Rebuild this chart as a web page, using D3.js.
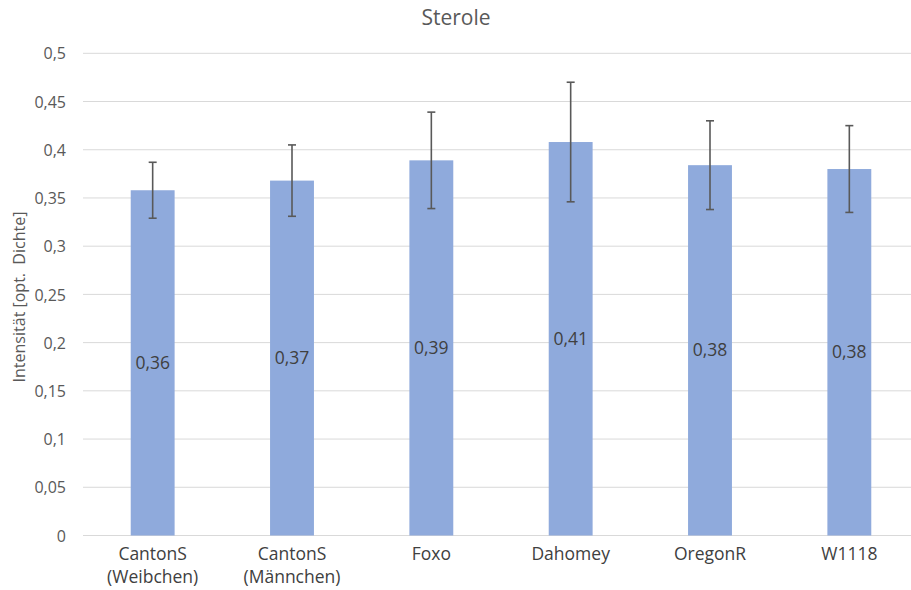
<!DOCTYPE html>
<html><head><meta charset="utf-8">
<script src="https://cdn.jsdelivr.net/npm/d3@7"></script>
<style>body{margin:0;background:#fff;} text{font-family:"Open Sans","Noto Sans",sans-serif;}</style>
</head><body><svg id="c" width="911" height="590"></svg>
<script>
const categories = [["CantonS","(Weibchen)"],["CantonS","(Männchen)"],["Foxo"],["Dahomey"],["OregonR"],["W1118"]];
const values = [0.358, 0.368, 0.389, 0.408, 0.384, 0.380];
const errHigh = [0.387, 0.405, 0.439, 0.470, 0.430, 0.425];
const errLow = [0.329, 0.331, 0.339, 0.346, 0.338, 0.335];
const valueLabels = ["0,36","0,37","0,39","0,41","0,38","0,38"];
const yTicks = [0,0.05,0.1,0.15,0.2,0.25,0.3,0.35,0.4,0.45,0.5];
const title = "Sterole";
const yTitle = "Intensität [opt.  Dichte]";

const svg = d3.select("#c");
const x = d3.scaleBand().domain(d3.range(categories.length)).range([83,919]).paddingInner(0.685).paddingOuter(0.3425);
const y = d3.scaleLinear().domain([0,0.5]).range([535.5,53.3]);
const fmt = d => String(d).replace(".", ",");

// gridlines
svg.append("g").selectAll("line").data(yTicks).join("line")
  .attr("x1",83).attr("x2",911).attr("y1",d=>y(d)).attr("y2",d=>y(d))
  .attr("stroke","#d9d9d9").attr("stroke-width",1);

// y axis labels
const ya = svg.append("g").attr("transform","translate(66,0)")
  .call(d3.axisLeft(y).tickValues(yTicks).tickFormat(fmt).tickSize(0).tickPadding(0));
ya.select(".domain").remove();
ya.selectAll("text").attr("fill","#595959").style("font-size","16px").attr("dy","0.35em");

// bars
svg.append("g").selectAll("rect").data(values).join("rect")
  .attr("x",(d,i)=>x(i)).attr("width",x.bandwidth())
  .attr("y",d=>y(d)).attr("height",d=>y(0)-y(d))
  .attr("fill","#8faadc");

// error bars
const eb = svg.append("g").attr("stroke","#595959").attr("stroke-width",1.6);
values.forEach((v,i)=>{
  const cx = x(i)+x.bandwidth()/2;
  eb.append("line").attr("x1",cx).attr("x2",cx).attr("y1",y(errHigh[i])).attr("y2",y(errLow[i]));
  eb.append("line").attr("x1",cx-4).attr("x2",cx+4).attr("y1",y(errHigh[i])).attr("y2",y(errHigh[i]));
  eb.append("line").attr("x1",cx-4).attr("x2",cx+4).attr("y1",y(errLow[i])).attr("y2",y(errLow[i]));
});

// value labels
svg.append("g").selectAll("text").data(values).join("text")
  .attr("x",(d,i)=>x(i)+x.bandwidth()/2).attr("y",d=>(y(d)+y(0))/2)
  .attr("dy","0.35em").attr("text-anchor","middle")
  .attr("fill","#404040").style("font-size","17.5px").text((d,i)=>valueLabels[i]);

// x axis labels
const xl = svg.append("g").selectAll("text").data(categories).join("text")
  .attr("x",(d,i)=>x(i)+x.bandwidth()/2).attr("y",560)
  .attr("text-anchor","middle").attr("fill","#404040").style("font-size","17.5px");
xl.each(function(d,i){
  const t = d3.select(this);
  d.forEach((line,j)=>{
    t.append("tspan").attr("x",x(i)+x.bandwidth()/2).attr("y",560+j*23).text(line);
  });
});

// title
svg.append("text").attr("x",456).attr("y",25).attr("text-anchor","middle")
  .attr("fill","#595959").style("font-size","21px").text(title);

// y title
svg.append("text").attr("transform","translate(25,297) rotate(-90)")
  .attr("text-anchor","middle").attr("fill","#595959").style("font-size","16px")
  .style("white-space","pre").text(yTitle);
</script></body></html>
